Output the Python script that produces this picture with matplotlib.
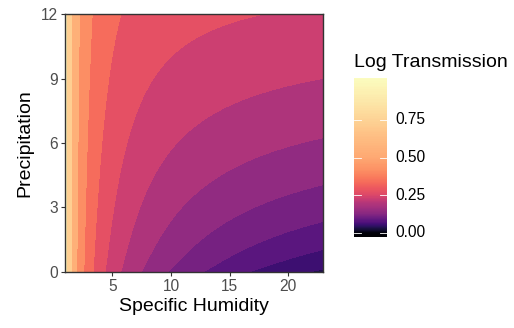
import numpy as np
import matplotlib
matplotlib.use("Agg")
import matplotlib.pyplot as plt
from matplotlib.colors import Normalize, ListedColormap

# ---- data ----
humidity_limits = [0.925, 22.96]      # Specific Humidity axis range
precip_limits = [0.0, 12.0]           # Precipitation axis range
# surface model: transmission = A*q^-k + a*sat(q)*p^m ; shown as log10
humidity_amp = 10.0
humidity_exp = 0.645
precip_amp = 0.38
humidity_onset = 1.2
humidity_half = 6.0
precip_exp = 0.85
# contour breaks (band edges)
contour_breaks = [0.0625, 0.1375, 0.2125, 0.2875, 0.3625, 0.4375, 0.5125,
                  0.5875, 0.6625, 0.7375, 0.8125, 0.8875, 0.9625, 1.0375]
band_colour_limits = [-0.045, 1.03]
# legend colour bar
legend_limits = [-0.031, 1.031]
legend_stop_values = [-0.031, -0.004, 0.028, 0.073, 0.128, 0.195, 0.25, 0.306,
                      0.35, 0.417, 0.5, 0.65, 0.75, 0.86, 1.031]
legend_stop_fracs = [0.0, 0.02, 0.14, 0.27, 0.40, 0.50, 0.60, 0.66,
                     0.71, 0.77, 0.82, 0.87, 0.91, 0.95, 1.0]
legend_ticks = [0.0, 0.25, 0.5, 0.75]
legend_labels = ["0.00", "0.25", "0.50", "0.75"]
x_ticks = [5, 10, 15, 20]
y_ticks = [0, 3, 6, 9, 12]

plt.rcParams['font.family'] = ['Liberation Sans', 'DejaVu Sans']

W, H = 514, 328
fig = plt.figure(figsize=(W / 100, H / 100), dpi=100)

# panel
L, R, T, B = 64.7, 323.0, 14.3, 271.7
ax = fig.add_axes([L / W, 1 - B / H, (R - L) / W, (B - T) / H])

q = np.linspace(humidity_limits[0], humidity_limits[1], 600)
p = np.linspace(precip_limits[0], precip_limits[1], 500)
Q, P = np.meshgrid(q, p)
qx = np.clip(Q - humidity_onset, 0, None)
trans = (humidity_amp * Q ** (-humidity_exp)
         + precip_amp * qx / (qx + humidity_half) * P ** precip_exp)
Z = np.log10(trans)

norm = Normalize(vmin=band_colour_limits[0], vmax=band_colour_limits[1])
ax.contourf(Q, P, Z, levels=contour_breaks, cmap='magma', norm=norm,
            antialiased=False)

ax.set_xlim(humidity_limits)
ax.set_ylim(precip_limits)
ax.set_xticks(x_ticks)
ax.set_yticks(y_ticks)
ax.tick_params(direction='out', length=3, width=0.8, color='#333333',
               labelsize=11.2, labelcolor='#4D4D4D', pad=2)
for s in ax.spines.values():
    s.set_color('#333333')
    s.set_linewidth(1.0)
ax.set_xlabel('Specific Humidity', fontsize=14, color='black', labelpad=3)
ax.set_ylabel('Precipitation', fontsize=14, color='black', labelpad=5)

# legend colourbar
cb_l, cb_r, cb_t, cb_b = 354.0, 386.7, 77.7, 237.3
cax = fig.add_axes([cb_l / W, 1 - cb_b / H, (cb_r - cb_l) / W, (cb_b - cb_t) / H])
vals = np.linspace(legend_limits[0], legend_limits[1], 300)
fracs = np.interp(vals, legend_stop_values, legend_stop_fracs)
bar_cmap = ListedColormap(plt.get_cmap('magma')(fracs))
cax.imshow(np.arange(300).reshape(-1, 1), cmap=bar_cmap, aspect='auto',
           origin='lower', extent=[0, 1, legend_limits[0], legend_limits[1]],
           interpolation='nearest')
cax.set_xlim(0, 1)
cax.set_ylim(legend_limits)
cax.axis('off')
for v, lab in zip(legend_ticks, legend_labels):
    cax.plot([0, 0.2], [v, v], color='white', lw=0.6)
    cax.plot([0.8, 1], [v, v], color='white', lw=0.6)
    yf = cb_b - (v - legend_limits[0]) / (legend_limits[1] - legend_limits[0]) * (cb_b - cb_t)
    fig.text(395 / W, 1 - yf / H, lab, fontsize=11.2, color='black',
             ha='left', va='center')
fig.text(cb_l / W, 1 - 67 / H, 'Log Transmission', fontsize=14, color='black',
         ha='left', va='baseline')

fig.savefig('out.png', dpi=100)
